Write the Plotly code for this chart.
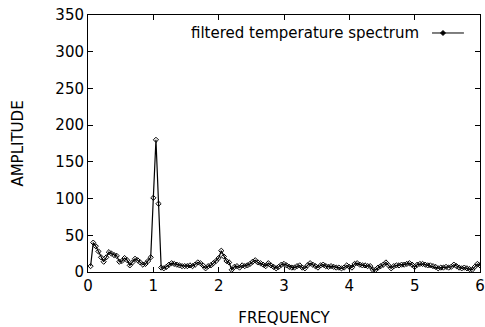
import plotly.graph_objects as go

freq_step = 0.04
amplitude = [
    8, 40, 35, 28, 20, 14, 20, 27, 25, 23, 22, 14, 15, 19, 16, 9, 13, 18, 16, 13,
    10, 11, 15, 20, 101, 180, 93, 6, 5, 7, 10, 12, 11, 10, 9, 8, 8, 8, 9, 8,
    10, 13, 12, 9, 5, 8, 9, 12, 15, 19, 29, 21, 15, 13, 3, 7, 8, 6, 9, 8,
    9, 11, 14, 16, 13, 12, 10, 8, 12, 9, 7, 5, 7, 10, 11, 9, 7, 6, 6, 8,
    9, 6, 5, 9, 12, 10, 8, 6, 9, 10, 8, 7, 8, 7, 6, 6, 5, 6, 9, 7,
    6, 11, 12, 10, 9, 9, 8, 8, 3, 3, 6, 8, 10, 13, 9, 5, 8, 9, 9, 10,
    10, 11, 12, 10, 7, 10, 11, 11, 10, 9, 9, 8, 7, 5, 6, 6, 7, 6, 7, 10,
    8, 6, 5, 6, 5, 4, 3, 7, 11, 9, 6,
]
frequency = [round((i + 1) * freq_step, 4) for i in range(len(amplitude))]

x_ticks = [0, 1, 2, 3, 4, 5, 6]
y_ticks = [0, 50, 100, 150, 200, 250, 300, 350]
series_name = "filtered temperature spectrum"

FONT = "DejaVu Sans"

fig = go.Figure()
fig.add_trace(go.Scatter(
    x=frequency, y=amplitude, mode="lines+markers", name=series_name,
    line=dict(color="black", width=1.2),
    marker=dict(symbol="diamond-open", size=4, color="black", line=dict(width=1, color="black")),
    showlegend=False,
))

axis_common = dict(
    showgrid=False, zeroline=False, showline=True, linecolor="black", linewidth=1,
    mirror="ticks", ticks="inside", ticklen=5, tickcolor="black", tickwidth=1,
    tickfont=dict(family=FONT, size=15, color="black"),
)

fig.update_layout(
    width=485, height=327,
    margin=dict(l=88, r=5, t=15, b=55),
    paper_bgcolor="white", plot_bgcolor="white",
    font=dict(family=FONT, size=15, color="black"),
    xaxis=dict(range=[0, 6], tickvals=x_ticks, ticktext=[str(v) for v in x_ticks],
               title=dict(text="FREQUENCY", font=dict(family=FONT, size=15), standoff=18),
               automargin=False, **axis_common),
    yaxis=dict(range=[0, 350], tickvals=y_ticks, ticktext=[str(v) for v in y_ticks],
               title=dict(text="AMPLITUDE", font=dict(family=FONT, size=15), standoff=28),
               automargin=False, **axis_common),
)

# legend drawn gnuplot-style: text, then sample line with point
leg_y = 0.930
fig.add_annotation(x=0.8495, y=leg_y, xref="paper", yref="paper", xanchor="right",
                   yanchor="middle", text=series_name, showarrow=False,
                   font=dict(family=FONT, size=15, color="black"))
fig.add_shape(type="line", xref="paper", yref="paper", x0=0.8776, x1=0.959,
              y0=leg_y, y1=leg_y, line=dict(color="black", width=1))
fig.add_shape(type="path", xref="paper", yref="paper", xsizemode="pixel", ysizemode="pixel",
              xanchor=0.9056, yanchor=leg_y, path="M -2.5 0 L 0 2.5 L 2.5 0 L 0 -2.5 Z",
              fillcolor="black", line=dict(color="black", width=1))

fig.write_html("out.html", config={"displayModeBar": False},
               post_script="document.body.style.margin='0';document.body.style.overflow='hidden';")
